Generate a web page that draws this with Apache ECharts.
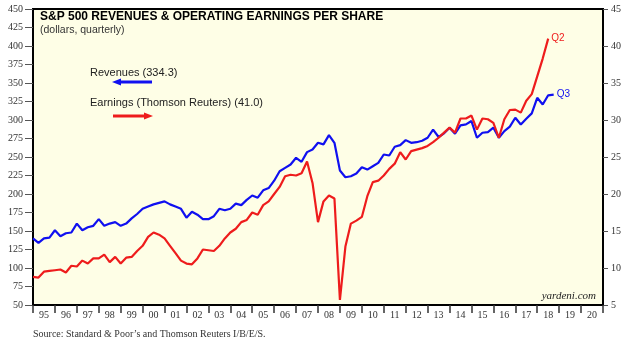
<!DOCTYPE html>
<html><head><meta charset="utf-8">
<script src="https://cdn.jsdelivr.net/npm/echarts@6/dist/echarts.min.js"></script>
<style>html,body{margin:0;padding:0;background:#fff}#c{width:640px;height:344px}</style>
</head><body><div id="c"></div>
<script>
// ---- data ----
const yearLabels = ['95','96','97','98','99','00','01','02','03','04','05','06','07','08','09','10','11','12','13','14','15','16','17','18','19','20'];
const firstYear = 1994, firstQuarter = 4; // first observation: 1994 Q4
const revenues = [
  140, 134, 140, 141, 151, 143, 147, 148, 160, 151, 155, 157, 166, 157, 160, 162, 157, 160, 167,
  173, 180, 183, 186, 188, 190, 186, 183, 180, 168, 176, 172, 166, 166, 170, 180, 178, 180, 187, 185, 192, 198, 195, 205, 208, 218,
  230.8, 235.3, 239.8, 248.9, 243.5, 256.6, 260.2, 269.2, 267, 279.6, 269.2, 231.7, 222.6, 224, 227.6, 236.2, 233, 237.5, 242, 253.4, 252, 263.8, 266, 272.8, 269.2, 270,
  272, 276, 287, 277, 282,
  289.6, 281.5, 292.7, 294, 298.6, 276, 282.8, 283.6, 289.6, 276, 285, 291, 303, 294, 301.8, 309, 330, 321, 333.4, 334.3
];
const earnings = [
  8.8, 8.7, 9.5, 9.6, 9.7, 9.8, 9.4, 10.3, 10.2, 11.0, 10.6, 11.3, 11.3, 11.8, 10.8, 11.5, 10.6, 11.4, 11.5,
  12.3, 13.0, 14.2, 14.8, 14.5, 14.0, 13.0, 12.0, 11.0, 10.6, 10.5, 11.3, 12.5, 12.4, 12.3, 13.0, 14.0, 14.8, 15.3, 16.2, 16.5, 17.5, 17.2, 18.5, 19.0, 20.0,
  20.96, 22.4, 22.6, 22.5, 22.8, 24.4, 21.5, 16.2, 19.0, 19.8, 19.4, 5.7, 12.9, 16.0, 16.4, 16.9, 19.7, 21.6, 21.8, 22.5, 23.4, 24.1, 25.65, 24.66, 25.8, 26.0,
  26.2, 26.5, 27.0, 27.6, 28.3,
  28.96, 28.3, 30.2, 30.2, 30.6, 28.7, 30.2, 30.1, 29.6, 27.6, 30.1, 31.35, 31.4, 31.0, 32.6, 33.5, 35.9, 38.3, 41.0
];
const leftAxis = {min: 50, max: 450, step: 25};
const rightAxis = {min: 5, max: 45, step: 5};
const revLatest = '334.3', earnLatest = '41.0';

// quarter-end position on the time axis
function toPoints(vals) {
  return vals.map((v, i) => {
    const q = firstQuarter - 1 + i;
    const yr = firstYear + Math.floor(q / 4);
    return [yr + (q % 4 + 1) / 4, v];
  });
}

const SANS = 'Liberation Sans, Arial, sans-serif';
const SERIF = 'Liberation Serif, Times New Roman, serif';
const BLUE = '#1010f0', RED = '#ee1c1c';

const chart = echarts.init(document.getElementById('c'), null, {renderer: 'canvas'});
chart.setOption({
  animation: false,
  grid: {left: 33, right: 37, top: 9, bottom: 39, show: true, backgroundColor: '#fefee6', borderColor: '#000', borderWidth: 2},
  xAxis: [
    {type: 'category', data: yearLabels, boundaryGap: true, position: 'bottom',
     axisLine: {show: true, lineStyle: {color: '#000', width: 2}},
     axisTick: {show: true, length: 8, interval: 0, lineStyle: {color: '#333', width: 1.5}},
     axisLabel: {interval: 0, margin: 5, fontFamily: SERIF, fontSize: 10, color: '#333'},
     splitLine: {show: false}},
    {type: 'value', min: 1995, max: 2021, show: false}
  ],
  yAxis: [
    {type: 'value', position: 'left', min: leftAxis.min, max: leftAxis.max, interval: leftAxis.step,
     axisLine: {show: true, lineStyle: {color: '#000', width: 2}},
     axisTick: {show: true, length: 8, lineStyle: {color: '#555'}},
     axisLabel: {margin: 10, fontFamily: SERIF, fontSize: 10, color: '#333'},
     splitLine: {show: false}},
    {type: 'value', position: 'right', min: rightAxis.min, max: rightAxis.max, interval: rightAxis.step,
     axisLine: {show: true, lineStyle: {color: '#000', width: 2}},
     axisTick: {show: true, length: 5, lineStyle: {color: '#555'}},
     axisLabel: {margin: 8, fontFamily: SERIF, fontSize: 10, color: '#333'},
     splitLine: {show: false}}
  ],
  series: [
    {type: 'line', name: 'Revenues', xAxisIndex: 1, yAxisIndex: 0, data: toPoints(revenues),
     showSymbol: false, lineStyle: {color: BLUE, width: 2.2}, itemStyle: {color: BLUE},
     endLabel: {show: true, formatter: 'Q3', color: BLUE, fontFamily: SANS, fontSize: 10, distance: 3}},
    {type: 'line', name: 'Earnings', xAxisIndex: 1, yAxisIndex: 1, data: toPoints(earnings),
     showSymbol: false, lineStyle: {color: RED, width: 2.2}, itemStyle: {color: RED},
     endLabel: {show: true, formatter: 'Q2', color: RED, fontFamily: SANS, fontSize: 10, distance: 3}}
  ],
  graphic: [
    {type: 'text', left: 40, top: 11, style: {text: 'S&P 500 REVENUES & OPERATING EARNINGS PER SHARE', font: 'bold 12px ' + SANS, fill: '#000'}},
    {type: 'text', left: 40, top: 25, style: {text: '(dollars, quarterly)', font: '10.5px ' + SANS, fill: '#333'}},
    {type: 'text', left: 90, top: 67, style: {text: 'Revenues (' + revLatest + ')', font: '11px ' + SANS, fill: '#222'}},
    {type: 'text', left: 90, top: 97, style: {text: 'Earnings (Thomson Reuters) (' + earnLatest + ')', font: '11px ' + SANS, fill: '#222'}},
    {type: 'line', shape: {x1: 119, y1: 82, x2: 152, y2: 82}, style: {stroke: BLUE, lineWidth: 3}},
    {type: 'polygon', shape: {points: [[112, 82], [121, 78.5], [121, 85.5]]}, style: {fill: BLUE}},
    {type: 'line', shape: {x1: 113, y1: 116, x2: 146, y2: 116}, style: {stroke: RED, lineWidth: 3}},
    {type: 'polygon', shape: {points: [[153, 116], [144, 112.5], [144, 119.5]]}, style: {fill: RED}},
    {type: 'text', right: 44, top: 291, style: {text: 'yardeni.com', font: 'italic 11px ' + SERIF, fill: '#222'}},
    {type: 'text', left: 33, top: 329, style: {text: 'Source: Standard & Poor\u2019s and Thomson Reuters I/B/E/S.', font: '10px ' + SERIF, fill: '#333'}}
  ]
});
</script></body></html>
